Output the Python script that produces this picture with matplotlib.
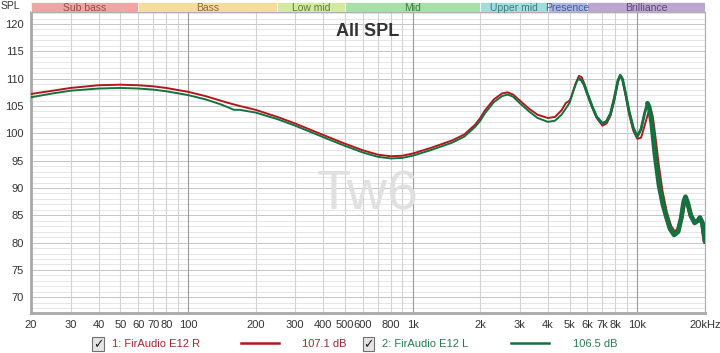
import matplotlib.pyplot as plt
from matplotlib.patches import Rectangle

# frequency response
freq_r = [20, 25, 30, 40, 50, 60, 70, 80, 100, 120, 150, 170, 200, 250, 300, 400, 500,
          600, 700, 800, 900, 1000, 1200, 1500, 1700, 1900, 2000, 2100, 2300, 2500, 2650,
          2800, 3000, 3300, 3600, 4000, 4300, 4600, 4800, 5000, 5100, 5300, 5500, 5650,
          5800, 6000, 6300, 6600, 7000, 7300, 7600, 7900, 8200, 8400, 8600, 8900, 9200,
          9600, 10000, 10400, 10800, 11200, 11400, 11600, 11900, 12300, 12800, 13400,
          14000, 14600, 15200, 15700, 16100, 16400, 16800, 17300, 18000, 18600, 19000,
          19500, 20000]
spl_r = [107.2, 107.8, 108.3, 108.8, 108.9, 108.8, 108.6, 108.3, 107.6, 106.8, 105.6, 105.0,
         104.3, 103.0, 101.8, 99.7, 98.1, 96.9, 96.1, 95.8, 95.9, 96.3, 97.3, 98.7, 99.8,
         101.6, 102.8, 104.2, 106.2, 107.3, 107.5, 107.1, 106.0, 104.5, 103.4, 102.8, 103.0,
         104.2, 105.5, 106.0, 106.8, 109.0, 110.5, 110.3, 109.2, 107.3, 104.8, 102.8, 101.4,
         101.8, 103.2, 106.0, 109.5, 110.7, 109.8, 106.8, 103.5, 100.5, 99.0, 99.2, 101.5,
         103.8, 104.2, 103.0, 99.5, 94.5, 89.5, 85.5, 83.0, 81.8, 82.3, 84.5, 87.0, 88.0,
         87.0, 85.0, 83.8, 84.0, 84.5, 83.5, 80.1]

freq_l = [20, 25, 30, 40, 50, 60, 70, 80, 100, 120, 140, 150, 160, 170, 200, 250, 300, 400,
          500, 600, 700, 800, 900, 1000, 1200, 1500, 1700, 1900, 2000, 2100, 2300, 2500,
          2650, 2800, 3000, 3300, 3600, 4000, 4300, 4600, 4800, 5000, 5200, 5400, 5500,
          5650, 5800, 6000, 6300, 6600, 7000, 7300, 7600, 7900, 8200, 8400, 8600, 8900,
          9200, 9600, 10000, 10400, 10800, 11100, 11300, 11600, 12000, 12500, 13000, 13500,
          14000, 14600, 15200, 15700, 16100, 16400, 16800, 17300, 18000, 18600, 19000,
          19500, 20000]
spl_l = [106.6, 107.3, 107.8, 108.2, 108.3, 108.2, 108.0, 107.7, 107.0, 106.2, 105.3, 104.8,
         104.3, 104.3, 103.8, 102.6, 101.4, 99.3, 97.7, 96.5, 95.7, 95.4, 95.5, 95.9, 96.9,
         98.3, 99.4, 101.2, 102.3, 103.7, 105.7, 106.8, 107.1, 106.7, 105.5, 104.0, 102.8,
         102.1, 102.3, 103.4, 104.5, 105.6, 107.8, 109.6, 110.0, 109.7, 108.9, 107.2, 104.9,
         103.0, 101.8, 102.2, 103.6, 106.4, 109.6, 110.6, 109.9, 107.0, 104.0, 101.0, 99.4,
         100.8, 103.8, 105.5, 104.8, 101.8, 96.0, 90.5, 87.0, 84.6, 82.5, 81.4, 82.0, 84.5,
         87.5, 88.4, 87.2, 85.0, 83.6, 84.0, 84.6, 83.6, 80.3]

bands = ['Sub bass', 'Bass', 'Low mid', 'Mid', 'Upper mid', 'Presence', 'Brilliance']
band_edges = [20, 60, 250, 500, 2000, 4000, 6000, 20000]
band_fill = ['#f4a3a3', '#f6dc9c', '#d3e9a0', '#a6e0a8', '#a0dede', '#a9b6de', '#bca6d0']
band_text = ['#a04848', '#8a6a3a', '#5f7a38', '#3f7a48', '#3f7a80', '#4a5a98', '#5a4a78']

xticks = [20, 30, 40, 50, 60, 70, 80, 100, 200, 300, 400, 500, 600, 800,
          1000, 2000, 3000, 4000, 5000, 6000, 7000, 8000, 10000, 20000]
xlabels = ['20', '30', '40', '50', '60', '70', '80', '100', '200', '300', '400', '500',
           '600', '800', '1k', '2k', '3k', '4k', '5k', '6k', '7k', '8k', '10k', '20kHz']

red = '#b0181c'
green = '#17703f'

fig = plt.figure(figsize=(7.2, 3.53), dpi=100)
ax = fig.add_axes([0.043, 0.113, 0.936, 0.853])
ax.set_xscale('log')
ax.set_xlim(20, 20000)
ax.set_ylim(67.1, 122.2)

# grid
for v in range(68, 123):
    ax.axhline(v, color='#c4c4c4' if v % 5 == 0 else '#e6e6e6', lw=0.7, zorder=0)
for dec in [10, 100, 1000, 10000]:
    for m in range(1, 10):
        f = dec * m
        if 20 <= f <= 20000:
            ax.axvline(f, color='#9a9a9a' if m == 1 else '#d2d2d2', lw=0.8, zorder=0)
ax.axvline(20000, color='#d2d2d2', lw=0.8, zorder=0)

ax.text(0.5, 0.39, 'Tw6', transform=ax.transAxes, ha='center', va='center',
        fontsize=40, color='#e0e0e0', family='Liberation Sans', zorder=1)

# thin line everywhere, thicker in the treble like the measurement spread
ax.plot(freq_r, spl_r, color=red, lw=1.4, zorder=3)
ax.plot(freq_l, spl_l, color=green, lw=1.4, zorder=4)
ax.plot([f for f in freq_r if f >= 11400], [s for f, s in zip(freq_r, spl_r) if f >= 11400],
        color=red, lw=3.0, zorder=3, solid_capstyle='round')
ax.plot([f for f in freq_l if f >= 5500], [s for f, s in zip(freq_l, spl_l) if f >= 5500],
        color=green, lw=2.0, zorder=4, solid_capstyle='round')
ax.plot([f for f in freq_l if f >= 11100], [s for f, s in zip(freq_l, spl_l) if f >= 11100],
        color=green, lw=3.4, zorder=4, solid_capstyle='round')

ax.set_xticks(xticks)
ax.set_xticklabels(xlabels)
ax.minorticks_off()
ax.set_yticks(range(70, 121, 5))
ax.tick_params(length=0, labelsize=8, labelcolor='#333333', pad=5)
for lbl in ax.get_xticklabels() + ax.get_yticklabels():
    lbl.set_family('Liberation Sans')
for s in ['top', 'right']:
    ax.spines[s].set_color('#b0b0b0')
    ax.spines[s].set_linewidth(0.8)
for s in ['left', 'bottom']:
    ax.spines[s].set_color('#a8a8a8')
    ax.spines[s].set_linewidth(2)

ax.text(0.5, 0.965, 'All SPL', transform=ax.transAxes, ha='center', va='top',
        fontsize=13, fontweight='bold', color='#333333', family='Liberation Sans')

# frequency band header
hx = fig.add_axes([0.043, 0.966, 0.936, 0.028])
hx.set_xscale('log')
hx.set_xlim(20, 20000)
hx.set_ylim(0, 1)
hx.axis('off')
for i, name in enumerate(bands):
    a, b = band_edges[i], band_edges[i + 1]
    hx.add_patch(Rectangle((a, 0), b - a, 1, facecolor=band_fill[i], edgecolor='white', lw=0.5))
    hx.text((a * b) ** 0.5, 0.45, name, ha='center', va='center', fontsize=7.5,
            color=band_text[i], family='Liberation Sans')
fig.text(0.028, 0.982, 'SPL', ha='right', va='center', fontsize=7.5, color='#333333',
         family='Liberation Sans')

# legend row
legend = [('1: FirAudio E12 R', '107.1 dB', red, '#a02a36', 0.128, 0.335, 0.42),
          ('2: FirAudio E12 L', '106.5 dB', green, '#2a7a52', 0.504, 0.71, 0.796)]
for name, val, lc, tc, x0, lx, vx in legend:
    fig.patches.append(Rectangle((x0, 0.005), 0.016, 0.04, transform=fig.transFigure,
                                 facecolor='#e4e4e4', edgecolor='#707070', lw=0.8))
    fig.text(x0 + 0.008, 0.025, '✓', ha='center', va='center', fontsize=9, color='#202020')
    fig.text(x0 + 0.027, 0.025, name, ha='left', va='center', fontsize=8, color=tc,
             family='Liberation Sans')
    fig.lines.append(plt.Line2D([lx, lx + 0.052], [0.027, 0.027], transform=fig.transFigure,
                                color=lc, lw=1.8))
    fig.text(vx, 0.025, val, ha='left', va='center', fontsize=8, color=tc,
             family='Liberation Sans')

fig.savefig('out.png', dpi=100, facecolor='white')
